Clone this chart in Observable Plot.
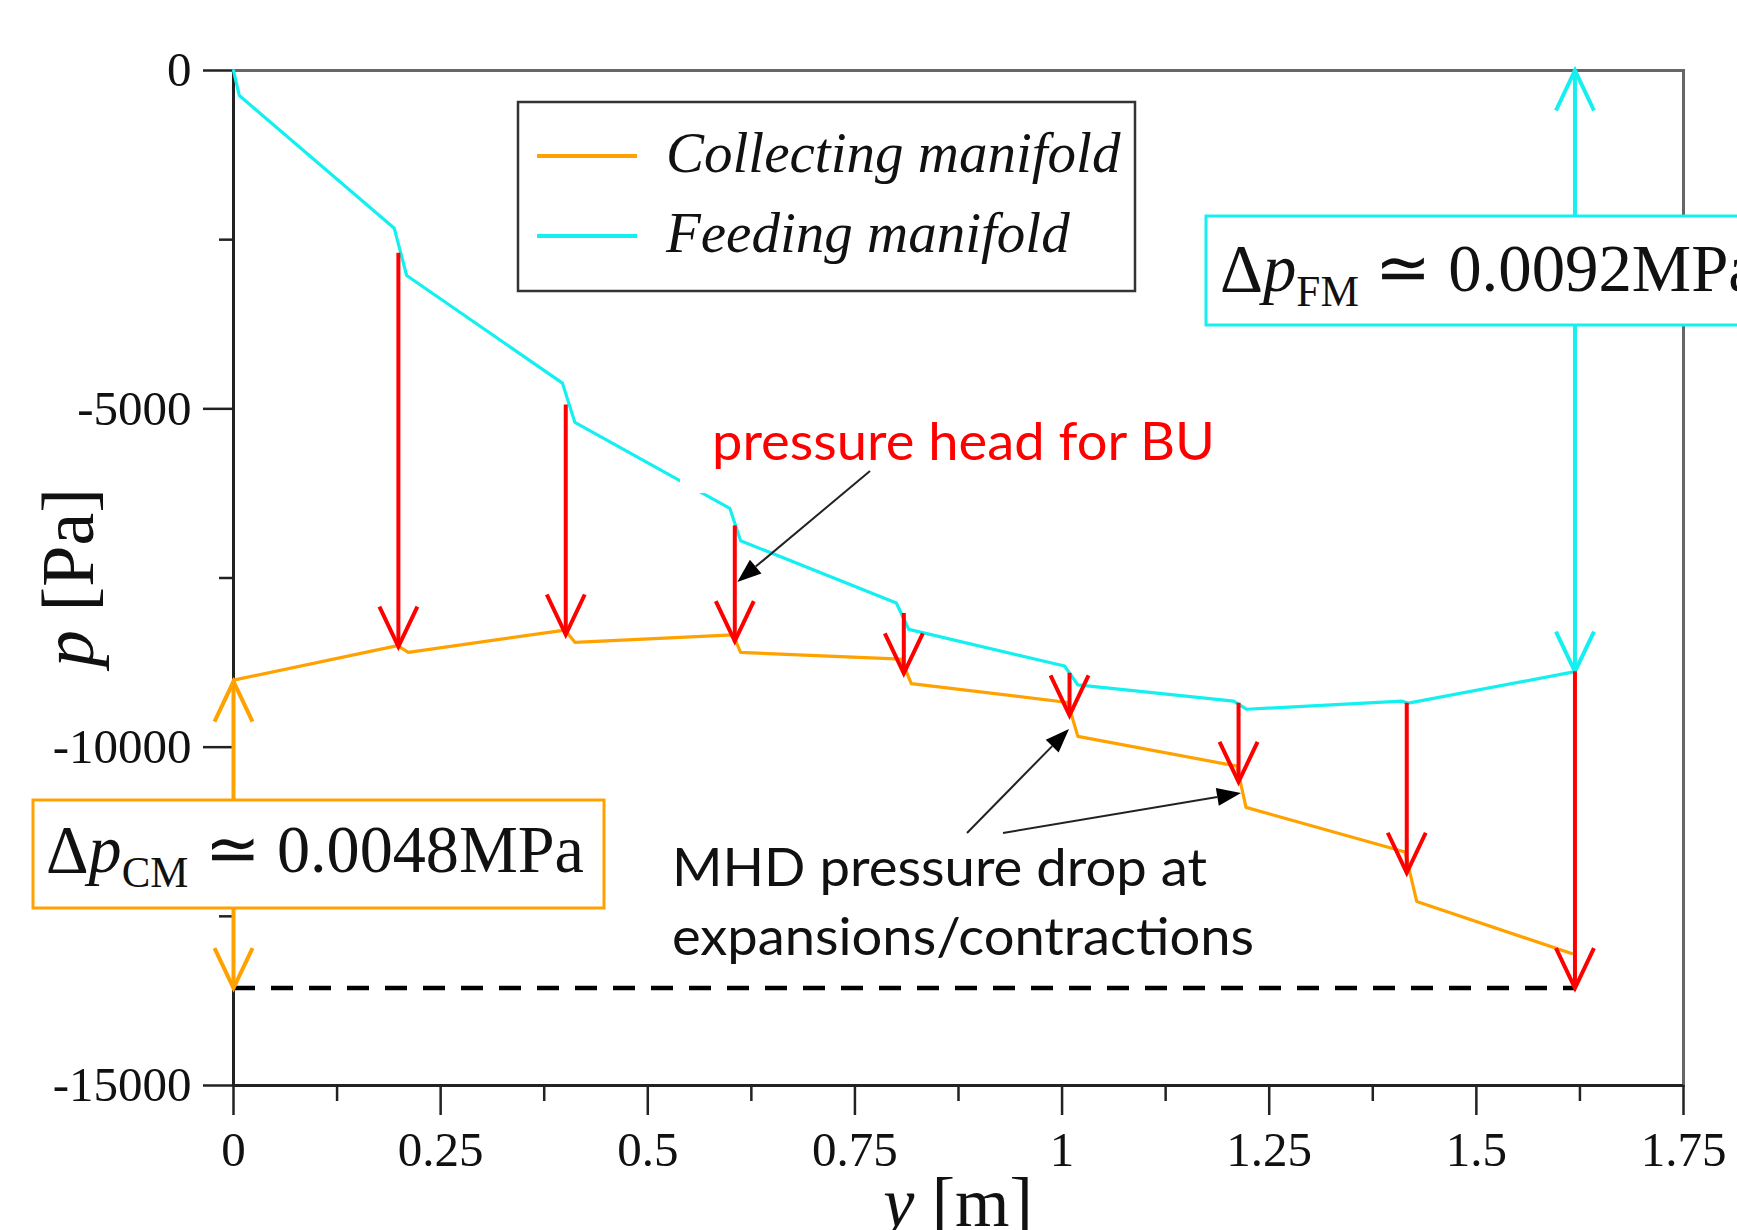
<!DOCTYPE html>
<html><head><meta charset="utf-8">
<script src="https://cdn.jsdelivr.net/npm/d3@7"></script>
<script src="https://cdn.jsdelivr.net/npm/@observablehq/plot@0.6"></script>
<style>
html,body{margin:0;padding:0;background:#fff;}
#chart{position:relative;width:1737px;height:1230px;overflow:hidden;background:#fff;}
svg{display:block;}
</style></head><body><div id="chart"></div>
<script>
// ---------------- data ----------------
const seriesNames = ["Collecting manifold", "Feeding manifold"];
const seriesColors = ["#ffa200", "#14f0f0"];

const xFeeding = [0, 0.007, 0.194, 0.209, 0.397, 0.412, 0.599, 0.612, 0.800, 0.815, 1.003, 1.019, 1.207, 1.223, 1.410, 1.418, 1.619];
const pFeeding = [0, -370, -2330, -3030, -4620, -5200, -6470, -6950, -7870, -8260, -8800, -9080, -9320, -9440, -9320, -9350, -8884];

const xCollecting = [0, 0.198, 0.211, 0.400, 0.412, 0.603, 0.612, 0.806, 0.818, 1.007, 1.019, 1.211, 1.222, 1.414, 1.428, 1.615];
const pCollecting = [-9010, -8500, -8600, -8270, -8450, -8340, -8600, -8700, -9060, -9340, -9840, -10280, -10890, -11550, -12280, -13050];

// pressure head arrows (feeding -> collecting)
const xHead = [0.199, 0.401, 0.605, 0.809, 1.009, 1.213, 1.416, 1.619];
const pHeadTop = [-2700, -4945, -6730, -8024, -8908, -9350, -9350, -8884];
const pHeadBottom = [-8515, -8335, -8433, -8908, -9530, -10513, -11856, -13560];

// reference level and overall pressure drops
const pReference = -13560;
const xDeltaCM = 0, pDeltaCMTop = -9030, pDeltaCMBottom = -13560;
const xDeltaFM = 1.619, pDeltaFMTop = 0, pDeltaFMBottom = -8884;
const deltaLabels = [
  {sym: "Δ", v: "p", sub: "CM", rest: " ≃ 0.0048MPa"},
  {sym: "Δ", v: "p", sub: "FM", rest: " ≃ 0.0092MPa"}
];

// axes
const xTickValues = [0, 0.25, 0.5, 0.75, 1, 1.25, 1.5, 1.75];
const xTickLabels = ["0", "0.25", "0.5", "0.75", "1", "1.25", "1.5", "1.75"];
const xMinorTicks = [0.125, 0.375, 0.625, 0.875, 1.125, 1.375, 1.625];
const yTickValues = [0, -5000, -10000, -15000];
const yTickLabels = ["0", "-5000", "-10000", "-15000"];
const yMinorTicks = [-2500, -7500, -12500];

// annotation texts
const noteHead = "pressure head for BU";
const noteMHD = ["MHD pressure drop at", "expansions/contractions"];

// ---------------- build ----------------
const feeding = xFeeding.map((x, i) => ({x, p: pFeeding[i]}));
const collecting = xCollecting.map((x, i) => ({x, p: pCollecting[i]}));
const heads = xHead.map((x, i) => ({x, top: pHeadTop[i], bottom: pHeadBottom[i]}));

const vDown = {draw(ctx) { ctx.moveTo(-19, -40); ctx.lineTo(0, 0); ctx.lineTo(19, -40); }};
const vUp = {draw(ctx) { ctx.moveTo(-19, 40); ctx.lineTo(0, 0); ctx.lineTo(19, 40); }};

const serif = "'Liberation Serif', 'Times New Roman', serif";
const sans = "Lato, 'Open Sans', sans-serif";
const RED = "#ff0000";

const chart = Plot.plot({
  width: 1737, height: 1230,
  marginLeft: 233, marginRight: 54, marginTop: 70, marginBottom: 145,
  x: {domain: [0, 1.75], label: null},
  y: {domain: [-15000, 0], label: null},
  style: {background: "white", fontFamily: serif, color: "#111"},
  marks: [
    Plot.frame({stroke: "#666", strokeWidth: 3}),
    Plot.ruleX([0], {stroke: "#222", strokeWidth: 3}),
    Plot.ruleY([-15000], {stroke: "#222", strokeWidth: 3}),
    Plot.axisY(yTickValues, {tickSize: 30, tickPadding: 12, fontSize: 49, strokeWidth: 2.5, stroke: "#222",
      tickFormat: d => yTickLabels[yTickValues.indexOf(d)], label: null}),
    Plot.axisY(yMinorTicks, {tickSize: 14, strokeWidth: 2.5, stroke: "#222", tickFormat: () => "", label: null}),
    Plot.axisX(xTickValues, {tickSize: 30, tickPadding: 16, fontSize: 49, strokeWidth: 2.5, stroke: "#222",
      tickFormat: d => xTickLabels[xTickValues.indexOf(d)], label: null}),
    Plot.axisX(xMinorTicks, {tickSize: 16, strokeWidth: 2.5, stroke: "#222", tickFormat: () => "", label: null}),
    Plot.ruleY([pReference], {x1: 0, x2: xDeltaFM, stroke: "#000", strokeWidth: 4.5, strokeDasharray: "22,16"}),
    Plot.line(collecting, {x: "x", y: "p", stroke: seriesColors[0], strokeWidth: 3.2}),
    Plot.line(feeding, {x: "x", y: "p", stroke: seriesColors[1], strokeWidth: 3.2}),
    // overall pressure drop arrows
    Plot.ruleX([xDeltaCM], {y1: pDeltaCMTop, y2: pDeltaCMBottom, stroke: seriesColors[0], strokeWidth: 4}),
    Plot.dot([pDeltaCMTop], {x: () => xDeltaCM, y: d => d, symbol: vUp, stroke: seriesColors[0], fill: "none", strokeWidth: 4}),
    Plot.dot([pDeltaCMBottom], {x: () => xDeltaCM, y: d => d, symbol: vDown, stroke: seriesColors[0], fill: "none", strokeWidth: 4}),
    Plot.ruleX([xDeltaFM], {y1: pDeltaFMTop, y2: pDeltaFMBottom, stroke: seriesColors[1], strokeWidth: 4}),
    Plot.dot([pDeltaFMTop], {x: () => xDeltaFM, y: d => d, symbol: vUp, stroke: seriesColors[1], fill: "none", strokeWidth: 4}),
    Plot.dot([pDeltaFMBottom], {x: () => xDeltaFM, y: d => d, symbol: vDown, stroke: seriesColors[1], fill: "none", strokeWidth: 4}),
    // pressure heads
    Plot.ruleX(heads, {x: "x", y1: "top", y2: "bottom", stroke: RED, strokeWidth: 4}),
    Plot.dot(heads, {x: "x", y: "bottom", symbol: vDown, stroke: RED, fill: "none", strokeWidth: 4})
  ]
});
document.getElementById("chart").appendChild(chart);

const X = chart.scale("x"), Y = chart.scale("y");
const sx = v => X.apply(v), sy = v => Y.apply(v);
const svg = d3.select(chart);

// axis titles
const yt = svg.append("text").attr("transform", `translate(93,${(sy(0) + sy(-15000)) / 2}) rotate(-90)`)
  .attr("text-anchor", "middle").attr("font-family", serif).attr("font-size", 74).attr("fill", "#111");
yt.append("tspan").attr("font-style", "italic").text("p");
yt.append("tspan").text(" [Pa]");
const xt = svg.append("text").attr("x", (sx(0) + sx(1.75)) / 2).attr("y", 1226)
  .attr("text-anchor", "middle").attr("font-family", serif).attr("font-size", 70).attr("fill", "#111");
xt.append("tspan").attr("font-style", "italic").text("y");
xt.append("tspan").text(" [m]");

// legend
const lg = svg.append("g").attr("text-anchor", "start");
lg.append("rect").attr("x", 518).attr("y", 102).attr("width", 617).attr("height", 189)
  .attr("fill", "white").attr("stroke", "#333").attr("stroke-width", 2.5);
[156, 236].forEach((yy, i) => {
  lg.append("line").attr("x1", 537).attr("x2", 637).attr("y1", yy).attr("y2", yy)
    .attr("stroke", seriesColors[i]).attr("stroke-width", 4);
  lg.append("text").attr("x", 666).attr("y", yy + 16).attr("font-family", serif).attr("font-style", "italic")
    .attr("font-size", 57).attr("fill", "#111").attr("text-anchor", "start").text(seriesNames[i]);
});

// delta boxes
function deltaBox(lbl, x, y, w, h, color, tx, ty, len) {
  const g = svg.append("g").attr("text-anchor", "start");
  g.append("rect").attr("x", x).attr("y", y).attr("width", w).attr("height", h)
    .attr("fill", "white").attr("stroke", color).attr("stroke-width", 3);
  const t = g.append("text").attr("x", tx).attr("y", ty).attr("font-family", serif).attr("font-size", 68)
    .attr("fill", "#111").attr("text-anchor", "start")
    .attr("textLength", len).attr("lengthAdjust", "spacingAndGlyphs");
  t.append("tspan").text(lbl.sym);
  t.append("tspan").attr("font-style", "italic").text(lbl.v);
  t.append("tspan").attr("font-size", 44).attr("dy", 15).text(lbl.sub);
  t.append("tspan").attr("dy", -15).text(lbl.rest);
}
deltaBox(deltaLabels[0], 33, 800, 571, 108, seriesColors[0], 46, 872, 538);
deltaBox(deltaLabels[1], 1206, 216, 560, 109, seriesColors[1], 1220, 291, 538);

// annotations
function blackArrow(x1, y1, x2, y2) {
  const a = Math.atan2(y2 - y1, x2 - x1), L = 24, W = 9;
  const bx = x2 - L * Math.cos(a), by = y2 - L * Math.sin(a);
  svg.append("line").attr("x1", x1).attr("y1", y1).attr("x2", bx).attr("y2", by)
    .attr("stroke", "#222").attr("stroke-width", 2);
  svg.append("path").attr("d", `M${x2},${y2}L${bx + W * Math.sin(a)},${by - W * Math.cos(a)}L${bx - W * Math.sin(a)},${by + W * Math.cos(a)}Z`)
    .attr("fill", "#000");
}
svg.append("rect").attr("x", 680).attr("y", 400).attr("width", 550).attr("height", 93).attr("fill", "white");
svg.append("text").attr("x", 712).attr("y", 460).attr("font-family", sans).attr("font-size", 52)
  .attr("text-anchor", "start").attr("fill", RED).attr("textLength", 503).attr("lengthAdjust", "spacingAndGlyphs").text(noteHead);
blackArrow(870, 471, sx(xHead[2]) + 3, 582);

[[886, 535], [955, 582]].forEach(([yy, len], i) => {
  svg.append("text").attr("x", 672).attr("y", yy).attr("font-family", sans).attr("font-size", 52)
    .attr("text-anchor", "start").attr("fill", "#111").attr("textLength", len).attr("lengthAdjust", "spacingAndGlyphs").text(noteMHD[i]);
});
blackArrow(967, 833, 1069, 729);
blackArrow(1003, 833, 1241, 793);
</script></body></html>
